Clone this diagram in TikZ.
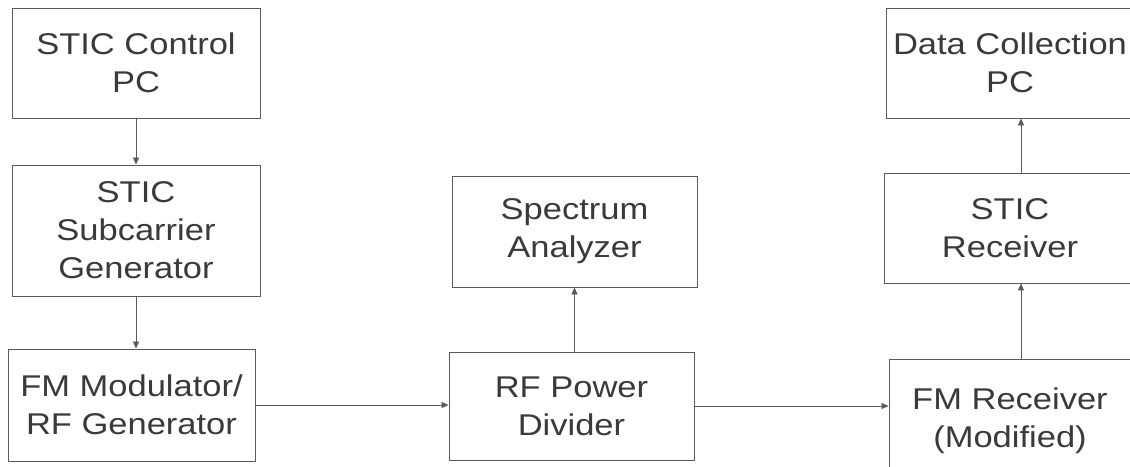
\documentclass[tikz,border=0pt]{standalone}
\usepackage{fontspec}
\setmainfont{Liberation Sans}[FakeStretch=1.15]
\usetikzlibrary{arrows.meta}
\definecolor{ink}{HTML}{3A3A3A}
\definecolor{edge}{HTML}{5A5A5A}
\begin{document}
\begin{tikzpicture}[x=1pt,y=-1pt,
  blk/.style={draw=edge, line width=0.9pt, text=ink, align=center,
    inner sep=0pt, font=\fontsize{30}{38}\selectfont},
  arr/.style={draw=edge, line width=0.8pt, -{Triangle[length=7pt,width=6pt]}}]
\clip (0,0) rectangle (1130,466);
\fill[white] (0,0) rectangle (1130,466);
% left column
\node[blk, minimum width=248pt, minimum height=110pt] (ctrl) at (136,63) {STIC Control\\PC};
\node[blk, minimum width=248pt, minimum height=131pt] (sub) at (136,230.5) {STIC\\Subcarrier\\Generator};
\node[blk, minimum width=247pt, minimum height=112pt] (fm) at (131.5,405) {FM Modulator/\\RF Generator};
% middle column
\node[blk, minimum width=245pt, minimum height=111pt] (spec) at (574.5,231.5) {Spectrum\\Analyzer};
\node[blk, minimum width=245pt, minimum height=108pt] (div) at (571.5,406) {RF Power\\Divider};
% right column
\node[blk, minimum width=248pt, minimum height=110pt] (dc) at (1010,63) {Data Collection\\PC};
\node[blk, minimum width=252pt, minimum height=110pt] (rx) at (1010,228) {STIC\\Receiver};
\node[blk, minimum width=242pt, minimum height=124pt] (fmr) at (1010,421) {FM Receiver\\(Modified)};
\coordinate (ax) at (1021,0);
% connectors
\draw[arr] (ctrl.south) -- (sub.north);
\draw[arr] (sub.south) -- (sub.south |- fm.north);
\draw[arr] (fm.east) -- (fm.east -| div.west);
\draw[arr] (div.north -| spec.south) -- (spec.south);
\draw[arr] (div.east) -- (div.east -| fmr.west);
\draw[arr] (fmr.north -| ax) -- (rx.south -| ax);
\draw[arr] (rx.north -| ax) -- (dc.south -| ax);
\end{tikzpicture}
\end{document}
